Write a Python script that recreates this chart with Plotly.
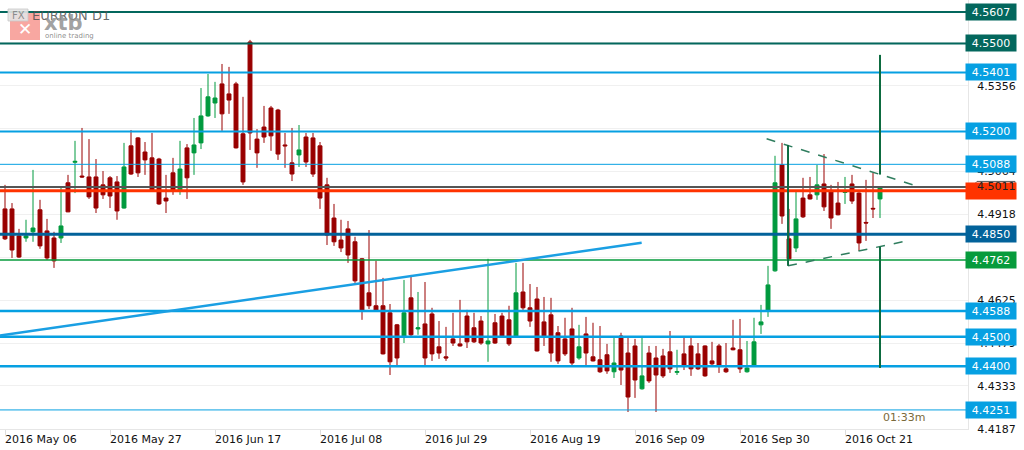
import plotly.graph_objects as go
import pandas as pd

# ---------------- data ----------------
dates = [d.strftime('%Y-%m-%d') for d in pd.bdate_range('2016-05-06', periods=126)]

opens = [4.4936, 4.4936, 4.4844, 4.4837, 4.4858, 4.4933, 4.4861, 4.4837, 4.4837, 4.5025,
         4.5095, 4.5048, 4.5045, 4.5045, 4.5018, 4.5042, 4.5028, 4.4939, 4.5151, 4.5178,
         4.5130, 4.5110, 4.5106, 4.4973, 4.5059, 4.5001, 4.5144, 4.5127, 4.5161, 4.5253,
         4.5297, 4.5362, 4.5328, 4.5362, 4.5192, 4.5505, 4.5174, 4.5215, 4.5280, 4.5273,
         4.5154, 4.5093, 4.5120, 4.5181, 4.5178, 4.5151, 4.5018, 4.4905, 4.4830, 4.4868,
         4.4824, 4.4766, 4.4650, 4.4606, 4.4606, 4.4582, 4.4541, 4.4500, 4.4633, 4.4527,
         4.4544, 4.4578, 4.4466, 4.4432, 4.4493, 4.4476, 4.4571, 4.4531, 4.4554, 4.4476,
         4.4548, 4.4571, 4.4558, 4.4503, 4.4653, 4.4599, 4.4629, 4.4551, 4.4575, 4.4514,
         4.4493, 4.4527, 4.4428, 4.4510, 4.4432, 4.4422, 4.4439, 4.4381, 4.4503, 4.4445,
         4.4469, 4.4323, 4.4445, 4.4428, 4.4435, 4.4449, 4.4379, 4.4442, 4.4469, 4.4442,
         4.4469, 4.4418, 4.4469, 4.4391, 4.4462, 4.4456, 4.4381, 4.4404, 4.4541, 4.4588,
         4.4725, 4.5086, 4.4834, 4.4803, 4.4973, 4.4984, 4.4984, 4.5021, 4.4994, 4.4956,
         4.4992, 4.5021, 4.4990, 4.4890, 4.4938, 4.4970]
highs = [4.5018, 4.4956, 4.4868, 4.4899, 4.5069, 4.4967, 4.4902, 4.4858, 4.5008, 4.5052,
         4.5168, 4.5212, 4.5174, 4.5106, 4.5065, 4.5048, 4.5048, 4.5161, 4.5205, 4.5181,
         4.5164, 4.5195, 4.5110, 4.5052, 4.5110, 4.5168, 4.5157, 4.5246, 4.5348, 4.5396,
         4.5369, 4.5430, 4.5420, 4.5369, 4.5318, 4.5512, 4.5208, 4.5287, 4.5287, 4.5277,
         4.5195, 4.5212, 4.5222, 4.5195, 4.5195, 4.5164, 4.5042, 4.4953, 4.4899, 4.4895,
         4.4841, 4.4769, 4.4864, 4.4759, 4.4701, 4.4612, 4.4544, 4.4694, 4.4711, 4.4653,
         4.4687, 4.4599, 4.4554, 4.4534, 4.4582, 4.4626, 4.4592, 4.4582, 4.4571, 4.4766,
         4.4578, 4.4582, 4.4606, 4.4752, 4.4752, 4.4680, 4.4670, 4.4636, 4.4633, 4.4537,
         4.4565, 4.4599, 4.4541, 4.4568, 4.4548, 4.4537, 4.4476, 4.4496, 4.4514, 4.4503,
         4.4493, 4.4503, 4.4469, 4.4469, 4.4459, 4.4520, 4.4456, 4.4503, 4.4496, 4.4479,
         4.4471, 4.4483, 4.4476, 4.4479, 4.4558, 4.4561, 4.4486, 4.4565, 4.4609, 4.4742,
         4.5117, 4.5161, 4.4936, 4.4994, 4.5042, 4.5045, 4.5086, 4.5123, 4.5018, 4.5028,
         4.5045, 4.5052, 4.4993, 4.5035, 4.5059, 4.5014]
lows = [4.4830, 4.4769, 4.4769, 4.4824, 4.4824, 4.4800, 4.4762, 4.4735, 4.4820, 4.4925,
        4.4990, 4.5042, 4.4970, 4.4922, 4.4970, 4.4939, 4.4899, 4.4937, 4.5052, 4.5045,
        4.5052, 4.4995, 4.4950, 4.4922, 4.4984, 4.4984, 4.4970, 4.5052, 4.5140, 4.5250,
        4.5246, 4.5202, 4.5260, 4.5142, 4.5018, 4.5137, 4.5076, 4.5161, 4.5134, 4.5103,
        4.5076, 4.5031, 4.5079, 4.5079, 4.5045, 4.4936, 4.4813, 4.4810, 4.4789, 4.4752,
        4.4684, 4.4558, 4.4595, 4.4586, 4.4440, 4.4370, 4.4404, 4.4479, 4.4500, 4.4507,
        4.4401, 4.4418, 4.4425, 4.4418, 4.4469, 4.4467, 4.4462, 4.4479, 4.4473, 4.4415,
        4.4476, 4.4498, 4.4469, 4.4500, 4.4592, 4.4534, 4.4450, 4.4469, 4.4415, 4.4408,
        4.4435, 4.4404, 4.4422, 4.4401, 4.4416, 4.4377, 4.4374, 4.4360, 4.4336, 4.4244,
        4.4292, 4.4320, 4.4343, 4.4244, 4.4360, 4.4377, 4.4370, 4.4387, 4.4367, 4.4387,
        4.4364, 4.4404, 4.4377, 4.4377, 4.4454, 4.4377, 4.4378, 4.4401, 4.4510, 4.4568,
        4.4722, 4.4885, 4.4763, 4.4789, 4.4905, 4.4968, 4.4967, 4.4929, 4.4868, 4.4914,
        4.4953, 4.4953, 4.4793, 4.4827, 4.4905, 4.4905]
closes = [4.4834, 4.4796, 4.4772, 4.4844, 4.4871, 4.4810, 4.4769, 4.4759, 4.4878, 4.4926,
          4.5098, 4.5045, 4.4977, 4.4939, 4.4984, 4.4980, 4.4929, 4.5079, 4.5055, 4.5059,
          4.5103, 4.4997, 4.4953, 4.4963, 4.5001, 4.5072, 4.5042, 4.5154, 4.5253, 4.5318,
          4.5314, 4.5260, 4.5307, 4.5144, 4.5028, 4.5195, 4.5127, 4.5181, 4.5185, 4.5123,
          4.5151, 4.5055, 4.5137, 4.5096, 4.5055, 4.4973, 4.4847, 4.4824, 4.4803, 4.4779,
          4.4691, 4.4588, 4.4606, 4.4588, 4.4442, 4.4415, 4.4428, 4.4582, 4.4507, 4.4531,
          4.4428, 4.4442, 4.4445, 4.4428, 4.4479, 4.4469, 4.4483, 4.4483, 4.4479, 4.4486,
          4.4479, 4.4500, 4.4476, 4.4650, 4.4599, 4.4554, 4.4452, 4.4503, 4.4445, 4.4418,
          4.4442, 4.4411, 4.4466, 4.4445, 4.4418, 4.4381, 4.4384, 4.4411, 4.4387, 4.4295,
          4.4353, 4.4367, 4.4350, 4.4370, 4.4367, 4.4391, 4.4382, 4.4404, 4.4391, 4.4391,
          4.4367, 4.4408, 4.4401, 4.4381, 4.4456, 4.4391, 4.4394, 4.4483, 4.4551, 4.4677,
          4.5025, 4.4912, 4.4766, 4.4902, 4.4909, 4.4970, 4.5018, 4.4943, 4.4905, 4.4916,
          4.4996, 4.4963, 4.4820, 4.4888, 4.4936, 4.5011]

# horizontal levels drawn on the chart, with their label colours
level_values = [4.5607, 4.5500, 4.5401, 4.5200, 4.5088, 4.4850, 4.4762, 4.4588, 4.4500, 4.4400, 4.4251]
level_colors = ['#03675d', '#03675d', '#06a0e2', '#06a0e2', '#06a0e2', '#02629a', '#079b3c',
                '#06a0e2', '#06a0e2', '#06a0e2', '#06a0e2']
level_widths = [2, 2, 2, 2, 1, 3, 1.5, 2.5, 2.5, 2.5, 1]
support_level = 4.4998      # red line
current_price = 4.5011      # last price line

# y-axis ticks (labels fully covered by level boxes are left blank)
ytick_vals = [4.4187, 4.4333, 4.4479, 4.4625, 4.4772, 4.4918, 4.5064, 4.5210, 4.5356, 4.5502]
ytick_text = ['4.4187', '4.4333', '4.4479', '4.4625', '', '4.4918', '4.5064', '', '4.5356', '']

# x-axis tick labels
xtick_idx = [0, 15, 30, 45, 60, 75, 90, 105, 120]
xtick_text = ['2016 May 06', '2016 May 27', '2016 Jun 17', '2016 Jul 08', '2016 Jul 29',
              '2016 Aug 19', '2016 Sep 09', '2016 Sep 30', '2016 Oct 21']

# drawn trend lines (x in bar index units, y in price)
blue_trend_x = [-0.71, 90.95]
blue_trend_y = [4.4505, 4.4821]
tri_upper_x = [108.8, 130.0]
tri_upper_y = [4.5175, 4.5016]
tri_lower_x = [111.86, 129.05]
tri_lower_y = [4.4742, 4.4828]
tri_left_x = [111.86, 111.86]
tri_left_y = [4.5154, 4.4742]
proj_x = 125
proj_upper_y = [4.5461, 4.5053]
proj_lower_y = [4.4807, 4.4394]

# ---------------- figure ----------------
W, H = 1024, 450
ML, MR, MT, MB = 0, 56, 0, 21
PW, PH = W - ML - MR, H - MT - MB
YPX = PH / (4.5648 - 4.4186)   # pixels per price unit
FONT = 'Verdana, DejaVu Sans'

fig = go.Figure()
fig.add_trace(go.Candlestick(
    x=dates, open=opens, high=highs, low=lows, close=closes,
    increasing=dict(line=dict(color='#009a3e', width=1), fillcolor='#009a3e'),
    decreasing=dict(line=dict(color='#990000', width=1), fillcolor='#990000'),
    whiskerwidth=0, showlegend=False, hoverinfo='skip'))

shapes = []
# horizontal levels
for v, c, w in zip(level_values, level_colors, level_widths):
    shapes.append(dict(type='line', xref='paper', x0=0, x1=1, yref='y', y0=v, y1=v,
                       line=dict(color=c, width=w), layer='above'))
shapes.append(dict(type='line', xref='paper', x0=0, x1=1, yref='y', y0=current_price, y1=current_price,
                   line=dict(color='#555555', width=2)))
shapes.append(dict(type='line', xref='paper', x0=0, x1=1, yref='y', y0=support_level, y1=support_level,
                   line=dict(color='#ff3300', width=3)))
# blue trend line
shapes.append(dict(type='line', xref='x', yref='y', x0=blue_trend_x[0], x1=blue_trend_x[1],
                   y0=blue_trend_y[0], y1=blue_trend_y[1], line=dict(color='#1a9fe3', width=2.5)))
# triangle
dg = '#0d6b40'
shapes.append(dict(type='line', xref='x', yref='y', x0=tri_upper_x[0], x1=tri_upper_x[1],
                   y0=tri_upper_y[0], y1=tri_upper_y[1], line=dict(color='#2f7d5e', width=1.5, dash='dash')))
shapes.append(dict(type='line', xref='x', yref='y', x0=tri_lower_x[0], x1=tri_lower_x[1],
                   y0=tri_lower_y[0], y1=tri_lower_y[1], line=dict(color='#2f7d5e', width=1.5, dash='dash')))
shapes.append(dict(type='line', xref='x', yref='y', x0=tri_left_x[0], x1=tri_left_x[1],
                   y0=tri_left_y[0], y1=tri_left_y[1], line=dict(color=dg, width=2)))
shapes.append(dict(type='line', xref='x', yref='y', x0=proj_x, x1=proj_x,
                   y0=proj_upper_y[0], y1=proj_upper_y[1], line=dict(color=dg, width=2)))
shapes.append(dict(type='line', xref='x', yref='y', x0=proj_x, x1=proj_x,
                   y0=proj_lower_y[0], y1=proj_lower_y[1], line=dict(color=dg, width=2)))

# logo watermark (pixel -> paper helpers)
def px(xp):
    return xp / PW
def py(yp):
    return 1 - yp / PH

shapes.append(dict(type='rect', xref='paper', yref='paper', x0=px(10), x1=px(40), y0=py(40), y1=py(13),
                   fillcolor='rgba(244,120,110,0.65)', line=dict(width=0), layer='above'))
shapes.append(dict(type='rect', xref='paper', yref='paper', x0=px(8), x1=px(28), y0=py(21), y1=py(9),
                   fillcolor='rgba(228,228,228,0.9)', line=dict(color='rgba(200,200,200,0.8)', width=1), layer='above'))

ann = []
ann.append(dict(xref='paper', yref='paper', x=px(18), y=py(15), xanchor='center', yanchor='middle',
                text='FX', showarrow=False, font=dict(family=FONT, size=10, color='#8c8c8c')))
ann.append(dict(xref='paper', yref='paper', x=px(30), y=py(15), xanchor='left', yanchor='middle',
                text='EURRON D1', showarrow=False, font=dict(family=FONT, size=13, color='rgba(80,80,80,0.85)')))
ann.append(dict(xref='paper', yref='paper', x=px(25), y=py(29), xanchor='center', yanchor='middle',
                text='<b>✕</b>', showarrow=False, font=dict(family='DejaVu Sans', size=17, color='white')))
ann.append(dict(xref='paper', yref='paper', x=px(42), y=py(23), xanchor='left', yanchor='middle',
                text='<b>xtb</b>', showarrow=False, font=dict(family='DejaVu Sans', size=21, color='rgba(145,145,145,0.85)')))
ann.append(dict(xref='paper', yref='paper', x=px(43), y=py(36), xanchor='left', yanchor='middle',
                text='online trading', showarrow=False, font=dict(family='DejaVu Sans', size=7, color='rgba(130,130,130,0.9)')))

# x tick labels (left-aligned at tick)
for i, t in zip(xtick_idx, xtick_text):
    ann.append(dict(xref='x', yref='paper', x=dates[i], y=0, yanchor='top', xanchor='left', yshift=-2,
                    xshift=-2, text=t, showarrow=False, font=dict(family=FONT, size=11, color='#111111')))

# level labels on right
for v, c in zip(level_values, level_colors):
    ann.append(dict(xref='paper', yref='y', x=1, y=v, xanchor='left', yanchor='middle', xshift=-3,
                    text=f'{v:.4f}', showarrow=False, bgcolor=c, width=46, height=12, borderpad=2,
                    font=dict(family=FONT, size=11, color='white')))
# red support box
ann.append(dict(xref='paper', yref='y', x=1, y=support_level, xanchor='left', yanchor='middle', xshift=-3,
                text=' ', showarrow=False, bgcolor='#ff3300', width=46, height=12, borderpad=2))
# current price label with arrow
hh = 5.5 / YPX
shapes.append(dict(type='path', xref='paper', yref='y',
                   path=(f'M {px(972)} {current_price} L {px(977)} {current_price + hh} '
                         f'L {px(1015)} {current_price + hh} L {px(1015)} {current_price - hh} '
                         f'L {px(977)} {current_price - hh} Z'),
                   fillcolor='white', line=dict(color='#555555', width=1), layer='above'))
ann.append(dict(xref='paper', yref='y', x=px(996), y=current_price, xanchor='center', yanchor='middle',
                text=f'{current_price:.4f}', showarrow=False, font=dict(family=FONT, size=11, color='#222222')))
# countdown text
ann.append(dict(xref='paper', yref='paper', x=px(881), y=py(417), xanchor='left', yanchor='middle',
                text='01:33m', showarrow=False, font=dict(family=FONT, size=11, color='#7a6a3a')))

fig.update_layout(
    width=W, height=H, margin=dict(l=ML, r=MR, t=MT, b=MB, autoexpand=False),
    paper_bgcolor='white', plot_bgcolor='white',
    shapes=shapes, annotations=ann, showlegend=False, boxgap=0.2,
    xaxis=dict(type='category', range=[-0.714, 137.57], rangeslider=dict(visible=False),
               showgrid=False, showticklabels=False, ticks='outside', ticklen=5,
               tickcolor='#dddddd', tickvals=[dates[i] for i in xtick_idx], automargin=False,
               showline=True, linecolor='#e6e6e6', linewidth=1, zeroline=False, fixedrange=True),
    yaxis=dict(side='right', range=[4.4186, 4.5648], tickvals=ytick_vals, ticktext=ytick_text,
               showgrid=True, gridcolor='#f0f0f0', gridwidth=1, ticks='', ticklabelstandoff=6,
               automargin=False, tickfont=dict(family=FONT, size=11, color='#111111'),
               showline=True, linecolor='#e6e6e6', linewidth=1, zeroline=False, fixedrange=True),
)

fig.write_html('out.html', config={'displayModeBar': False},
               post_script="document.body.style.margin='0';document.body.style.overflow='hidden';")
